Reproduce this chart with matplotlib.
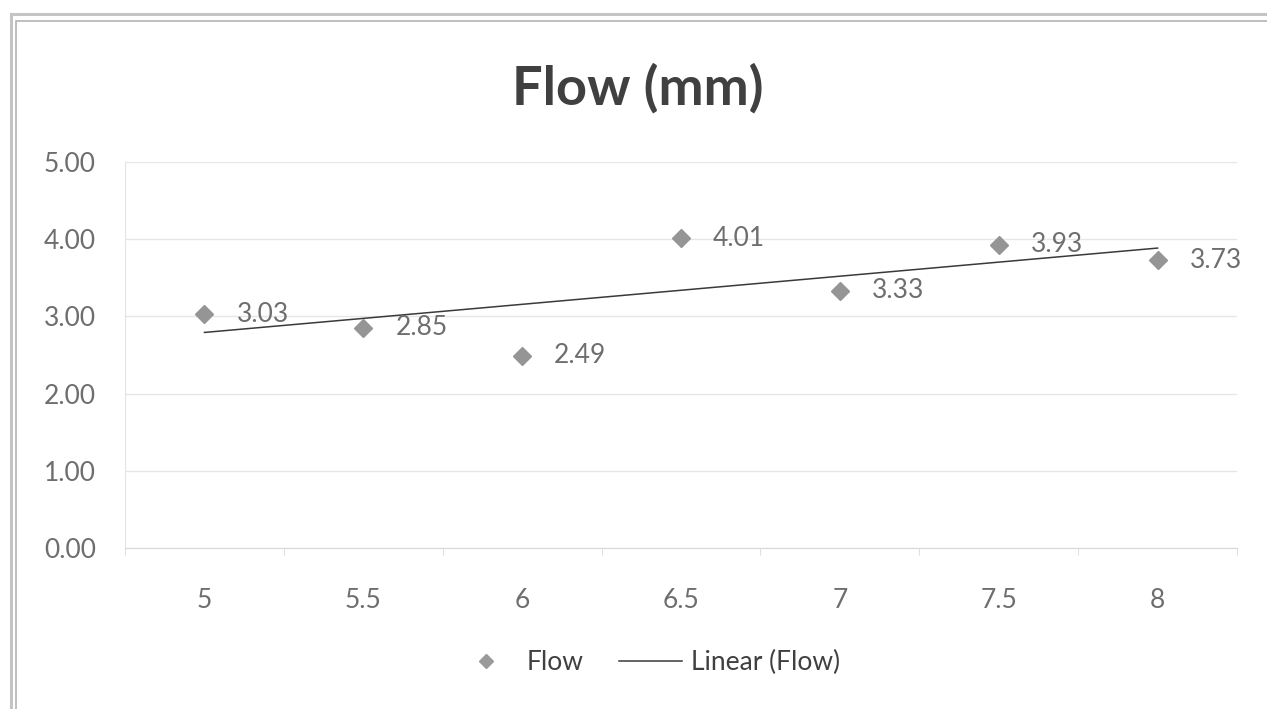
import numpy as np
import matplotlib
matplotlib.use("Agg")
import matplotlib.pyplot as plt
from matplotlib.lines import Line2D
from matplotlib.patches import Rectangle

# Data
categories = ["5", "5.5", "6", "6.5", "7", "7.5", "8"]
flow = [3.03, 2.85, 2.49, 4.01, 3.33, 3.93, 3.73]
y_ticks = [0.0, 1.0, 2.0, 3.0, 4.0, 5.0]

plt.rcParams["font.family"] = ["Lato", "DejaVu Sans"]

fig = plt.figure(figsize=(12.67, 7.09), dpi=100)
fig.patch.set_facecolor("white")

# Outer chart frame (double gray border)
for (x0, y0, h, c, lw) in [(0.0090, -0.02, 1.0, "#c4c4c4", 2.2),
                           (0.0130, -0.02, 0.991, "#b4b4b4", 1.2)]:
    fig.add_artist(Rectangle((x0, y0), 1.2, h, transform=fig.transFigure,
                             fill=False, edgecolor=c, linewidth=lw))

ax = fig.add_axes([0.0987, 0.2271, 0.8776, 0.5444])
x = np.arange(len(categories))

# Trendline fitted on category index
slope, intercept = np.polyfit(x + 1, flow, 1)
trend = slope * (x + 1) + intercept

ax.plot(x, trend, color="#3a3a3a", linewidth=1.1, zorder=3)
ax.plot(x, flow, linestyle="none", marker="D", markersize=9, color="#959595",
        markeredgecolor="#959595", zorder=4)

label_kw = dict(fontsize=19, color="#6e6e6e", fontweight="normal")
for xi, v in zip(x, flow):
    ax.annotate(f"{v:.2f}", (xi, v), xytext=(23, 0), textcoords="offset points",
                ha="left", va="center", **label_kw)

ax.set_xlim(-0.5, len(categories) - 0.5)
ax.set_ylim(0, 5)
ax.set_yticks(y_ticks)
ax.set_yticklabels([f"{t:.2f}" for t in y_ticks], **label_kw)
ax.set_xticks(x)
ax.set_xticklabels(categories, **label_kw)
ax.set_xticks(np.arange(-0.5, len(categories)), minor=True)

ax.grid(axis="y", color="#e6e6e6", linewidth=1.0)
ax.set_axisbelow(True)
for side in ["top", "right"]:
    ax.spines[side].set_visible(False)
ax.spines["left"].set_color("#e4e4e4")
ax.spines["bottom"].set_color("#d8d8d8")
ax.tick_params(axis="both", which="major", length=0)
ax.tick_params(axis="y", pad=21)
ax.tick_params(axis="x", pad=29)
ax.tick_params(axis="x", which="minor", length=5, color="#d8d8d8", direction="out")

fig.text(0.503, 0.876, "Flow (mm)", ha="center", va="center", fontsize=39,
         fontweight="bold", color="#404040")

handles = [
    Line2D([], [], linestyle="none", marker="D", markersize=7, color="#9a9a9a"),
    Line2D([], [], color="#3a3a3a", linewidth=1.1),
]
fig.legend(handles, ["Flow", "Linear (Flow)"], loc="center", bbox_to_anchor=(0.511, 0.065),
           ncol=2, frameon=False, fontsize=19, labelcolor="#404040",
           handlelength=2.4, columnspacing=1.33, handletextpad=0.35)

fig.savefig("out.png", dpi=100, facecolor="white")
